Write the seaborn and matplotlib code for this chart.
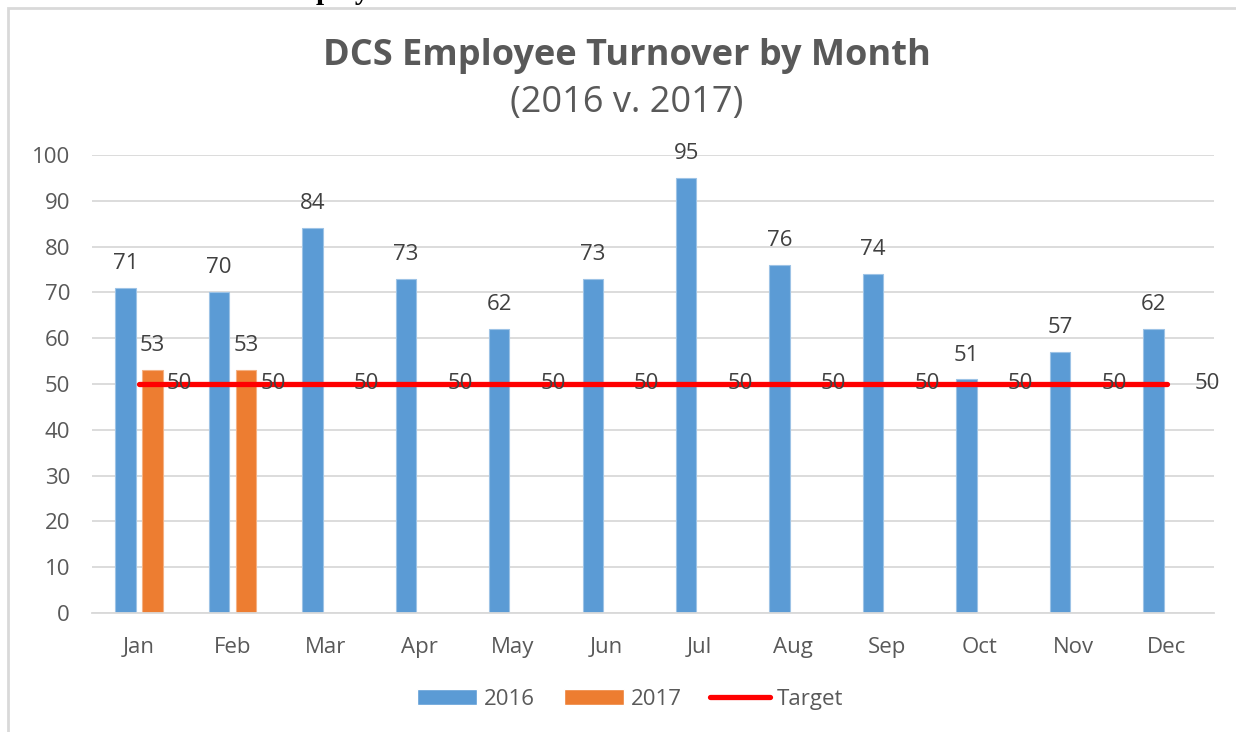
import numpy as np
import pandas as pd
import matplotlib.pyplot as plt
import seaborn as sns
from matplotlib.patches import Patch, Rectangle
from matplotlib.lines import Line2D

# chart data
months = ['Jan', 'Feb', 'Mar', 'Apr', 'May', 'Jun', 'Jul', 'Aug', 'Sep', 'Oct', 'Nov', 'Dec']
turnover_2016 = [71, 70, 84, 73, 62, 73, 95, 76, 74, 51, 57, 62]
months_2017 = ['Jan', 'Feb']
turnover_2017 = [53, 53]
target = [50] * 12
years = ['2016', '2017']

BLUE = '#5B9BD5'
ORANGE = '#ED7D31'
RED = '#FF0000'
TXT = '#595959'
GRID = '#D9D9D9'

df = pd.concat([
    pd.DataFrame({'Month': months, 'Turnover': turnover_2016, 'Year': '2016'}),
    pd.DataFrame({'Month': months_2017, 'Turnover': turnover_2017, 'Year': '2017'}),
], ignore_index=True)
target_df = pd.DataFrame({'pos': np.arange(len(months)), 'Target': target})

sns.set_style('white')
plt.rcParams['font.family'] = ['Open Sans', 'DejaVu Sans']

fig = plt.figure(figsize=(12.36, 7.32), dpi=100)
ax = fig.add_axes([0.0747, 0.1626, 0.9072, 0.6257])

sns.barplot(data=df, x='Month', y='Turnover', hue='Year', order=months,
            hue_order=years, palette=[BLUE, ORANGE], saturation=1,
            width=0.58, gap=0.25, linewidth=0.8, edgecolor='#9DC3E6',
            legend=False, ax=ax)
# orange bars get their own edge colour
for bar in ax.containers[1]:
    bar.set_edgecolor('#F4B183')

sns.lineplot(data=target_df, x='pos', y='Target', color=RED, linewidth=3.8,
             solid_capstyle='round', ax=ax, zorder=4)

# data labels
for cont in ax.containers:
    ax.bar_label(cont, fmt='%d', padding=10, fontsize=16, color='#404040')
for i, v in enumerate(target):
    ax.annotate(str(v), (i, v), xytext=(20, 0), textcoords='offset points',
                va='center', ha='left', fontsize=16, color='#404040', zorder=5)

ax.set_ylim(0, 100)
ax.set_xlim(-0.5, len(months) - 0.5)
ax.set_yticks(range(0, 101, 10))
ax.yaxis.grid(True, color=GRID, linewidth=1.3)
ax.set_axisbelow(True)
for s in ['top', 'right', 'left']:
    ax.spines[s].set_visible(False)
ax.spines['bottom'].set_color(GRID)
ax.spines['bottom'].set_linewidth(1.3)
ax.tick_params(axis='both', length=0, labelsize=16, labelcolor=TXT)
ax.tick_params(axis='y', pad=16)
ax.tick_params(axis='x', pad=17.5)
ax.set_xlabel('')
ax.set_ylabel('')

fig.text(0.507, 0.923, 'DCS Employee Turnover by Month', ha='center', va='center',
         fontsize=26, fontweight='bold', color=TXT)
fig.text(0.507, 0.859, '(2016 v. 2017)', ha='center', va='center',
         fontsize=26, color=TXT)

handles = [Patch(facecolor=BLUE), Patch(facecolor=ORANGE),
           Line2D([0], [0], color=RED, linewidth=3.8, solid_capstyle='round')]
fig.legend(handles, ['2016', '2017', 'Target'], loc='center', ncol=3,
           bbox_to_anchor=(0.51, 0.045), frameon=False, fontsize=16,
           labelcolor=TXT, handlelength=2.7, handleheight=0.7,
           handletextpad=0.3, columnspacing=1.3)

# chart frame and the clipped caption above it
fig.patches.append(Rectangle((8 / 1236, -0.2), 1.2, 1.2 - 8 / 732,
                             transform=fig.transFigure, fill=False,
                             edgecolor=GRID, linewidth=2))
cap_y = 1 + 1 / 732
fig.text(10 / 1236, cap_y, 'Chart 1:', ha='left', va='baseline', fontsize=21,
         fontweight='bold', family='Liberation Serif', color='black')
fig.text(207 / 1236, cap_y, 'DCS Employee Turnover Trends', ha='left',
         va='baseline', fontsize=21, fontweight='bold',
         family='Liberation Serif', color='black')

fig.savefig('out.png', dpi=100)
